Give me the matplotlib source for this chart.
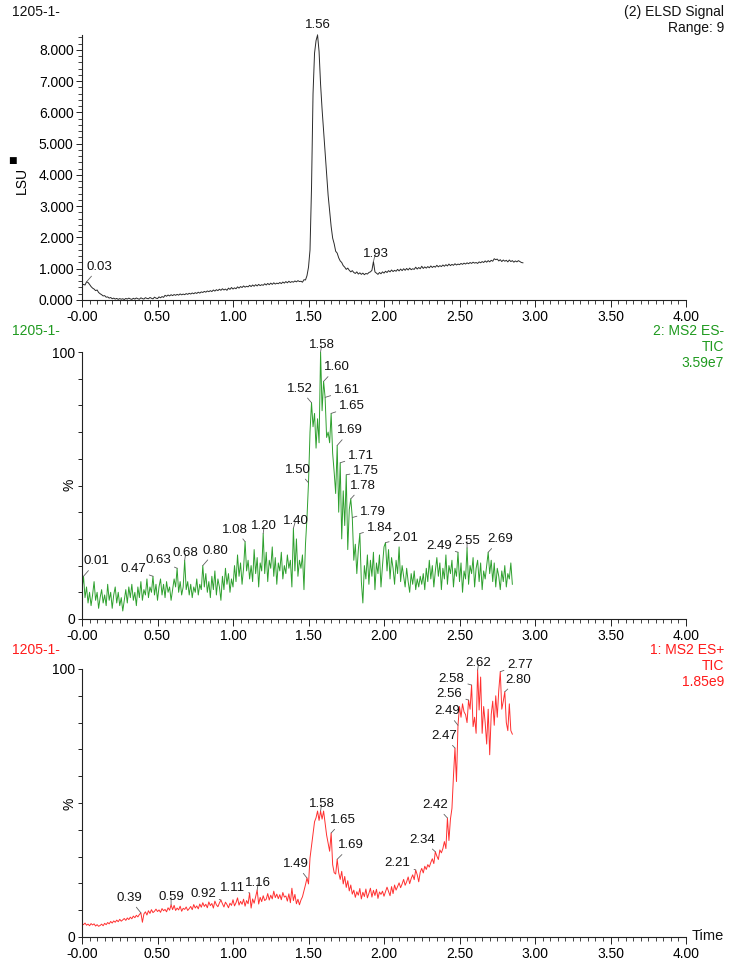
import numpy as np
import matplotlib
matplotlib.use("Agg")
import matplotlib.pyplot as plt
from matplotlib.ticker import MultipleLocator, FixedLocator, FixedFormatter

plt.rcParams['font.family'] = ['Liberation Sans', 'DejaVu Sans']

# ---------------- DATA ----------------
x_tick_values = [0.0, 0.5, 1.0, 1.5, 2.0, 2.5, 3.0, 3.5, 4.0]
x_tick_labels = ['-0.00', '0.50', '1.00', '1.50', '2.00', '2.50', '3.00', '3.50', '4.00']

elsd_yticks = [0, 1000, 2000, 3000, 4000, 5000, 6000, 7000, 8000]
elsd_ylabels = ['0.000', '1.000', '2.000', '3.000', '4.000', '5.000', '6.000', '7.000', '8.000']

# ELSD signal, time 0.00 .. 2.92 step 0.01
elsd_values = [
    470, 500, 480, 580, 560, 500, 430, 380, 350, 300,
    320, 240, 200, 170, 130, 140, 90, 100, 60, 80,
    40, 60, 30, 50, 20, 45, 25, 40, 15, 50,
    30, 60, 35, 20, 55, 30, 65, 40, 25, 70,
    45, 30, 75, 50, 40, 80, 55, 35, 90, 60,
    45, 100, 70, 110, 85, 150, 120, 160, 130, 170,
    140, 175, 150, 180, 155, 195, 165, 190, 170, 205,
    180, 215, 190, 225, 200, 235, 210, 250, 220, 260,
    240, 275, 250, 290, 265, 300, 270, 320, 285, 330,
    300, 345, 310, 360, 320, 350, 310, 380, 340, 400,
    350, 390, 360, 420, 380, 430, 400, 450, 410, 440,
    420, 470, 430, 480, 440, 490, 450, 500, 460, 490,
    470, 520, 480, 530, 490, 540, 500, 550, 510, 540,
    520, 560, 525, 575, 540, 590, 550, 600, 560, 590,
    570, 610, 580, 620, 590, 600, 570, 650, 640, 780,
    1050, 1600, 3600, 6600, 7900, 8300, 8480, 7950, 6900, 6100,
    5400, 4700, 4050, 3350, 2850, 2350, 1980, 1800, 1560, 1500,
    1350, 1250, 1200, 1100, 1050, 980, 1020, 950, 900, 940,
    880, 850, 900, 830, 870, 820, 860, 810, 850, 830,
    880, 900, 950, 1230, 900, 860, 820, 880, 840, 900,
    860, 920, 880, 940, 900, 960, 910, 950, 920, 980,
    930, 990, 940, 1000, 950, 1010, 960, 1020, 970, 1000,
    980, 1050, 990, 1040, 1000, 1080, 1010, 1060, 1020, 1070,
    1030, 1090, 1040, 1080, 1050, 1110, 1060, 1100, 1070, 1120,
    1080, 1130, 1090, 1150, 1100, 1140, 1110, 1160, 1120, 1150,
    1130, 1170, 1140, 1180, 1150, 1190, 1160, 1200, 1170, 1210,
    1180, 1200, 1170, 1220, 1190, 1230, 1200, 1250, 1210, 1260,
    1220, 1270, 1240, 1320, 1290, 1310, 1250, 1290, 1230, 1280,
    1240, 1270, 1220, 1280, 1230, 1260, 1210, 1250, 1220, 1260,
    1230, 1200, 1190,
]
elsd_time = np.round(np.arange(len(elsd_values)) * 0.01, 2)
elsd_peak_labels = [0.03, 1.56, 1.93]

# MS2 ES- TIC (%), time 0.00 .. 2.85 step 0.01
esm_values = [
    11, 16, 8, 12, 6, 10, 5, 9, 14, 7,
    10, 4, 8, 11, 6, 9, 5, 13, 7, 10,
    4, 9, 12, 6, 10, 5, 8, 3, 7, 11,
    6, 12, 8, 13, 7, 10, 5, 12, 8, 14,
    7, 11, 9, 15, 8, 12, 10, 16, 9, 13,
    7, 12, 15, 9, 13, 8, 14, 10, 12, 7,
    11, 15, 12, 19, 10, 14, 9, 12, 22, 11,
    14, 9, 13, 8, 12, 10, 15, 9, 13, 11,
    20, 12, 17, 10, 14, 8, 16, 11, 18, 9,
    15, 12, 7, 16, 11, 19, 13, 17, 10, 15,
    12, 20, 14, 24, 16, 21, 13, 19, 29, 18,
    22, 15, 20, 14, 26, 17, 23, 12, 21, 18,
    32, 17, 25, 14, 22, 19, 27, 16, 23, 13,
    21, 18, 25, 15, 20, 17, 24, 19, 22, 12,
    34, 18, 30, 16, 22, 19, 24, 11, 28, 38,
    51, 70, 81, 72, 77, 64, 75, 66, 100, 78,
    89, 83, 68, 70, 66, 77, 62, 55, 47, 65,
    40, 58.5, 30, 48, 35, 54, 26, 41, 45, 38,
    22, 28, 17, 26, 32, 14, 6, 20, 15, 24,
    13, 22, 16, 25, 11, 21, 17, 24, 12, 20,
    27, 28.6, 18, 26, 15, 23, 19, 13, 22, 17,
    27, 14, 20, 16, 12, 19, 14, 10, 17, 13,
    18, 11, 15, 12, 16, 13, 17, 11, 19, 14,
    22, 15, 20, 12, 18, 23, 16, 21, 11, 19,
    15, 24, 13, 20, 17, 22, 12, 19, 16, 25,
    14, 21, 10, 18, 15, 26.6, 13, 20, 17, 23,
    12, 19, 22, 14, 21, 11, 18, 15, 20, 25,
    17, 22, 14, 21, 12, 19, 16, 11, 18, 14,
    20, 12, 17, 15, 21, 13,
]
esm_time = np.round(np.arange(len(esm_values)) * 0.01, 2)
esm_peak_labels = [0.01, 0.47, 0.63, 0.68, 0.80, 1.08, 1.20, 1.40, 1.50, 1.52,
                   1.58, 1.60, 1.61, 1.65, 1.69, 1.71, 1.75, 1.78, 1.79, 1.84,
                   2.01, 2.49, 2.55, 2.69]

# MS2 ES+ TIC (%), time 0.00 .. 2.85 step 0.01
esp_values = [
    5.0, 4.6, 5.2, 4.4, 4.8, 4.2, 5.0, 4.5, 4.9, 4.1,
    4.6, 4.0, 4.3, 4.8, 4.2, 5.1, 4.6, 5.4, 4.9, 5.8,
    5.2, 6.0, 5.5, 6.3, 5.7, 6.6, 5.9, 6.4, 6.9, 6.2,
    7.1, 6.5, 7.4, 6.8, 7.8, 7.2, 8.1, 7.5, 8.4, 9.0,
    5.5, 8.6, 9.4, 8.2, 9.8, 8.8, 10.2, 9.1, 9.6, 10.4,
    9.5, 10.1, 9.2, 10.6, 9.8, 10.3, 9.4, 10.9, 10.0, 12.0,
    10.2, 11.8, 9.9, 10.8, 10.1, 11.5, 9.6, 10.7, 10.3, 11.2,
    9.9, 10.6, 11.4, 10.2, 12.1, 10.8, 11.6, 10.5, 12.3, 11.1,
    12.8, 11.4, 12.2, 10.9, 13.1, 11.7, 12.5, 10.8, 13.4, 12.0,
    11.3, 12.7, 13.8, 12.4, 11.2, 13.0, 12.1, 10.9, 12.6, 11.8,
    13.9, 11.6, 12.8, 14.6, 11.9, 13.3, 12.2, 14.1, 11.5, 13.6,
    12.4, 16.4, 10.8, 14.2, 12.6, 15.1, 17.5, 12.3, 14.8, 13.2,
    15.4, 13.6, 14.1, 16.2, 13.8, 15.6, 14.2, 17.1, 14.7, 16.0,
    14.3, 15.8, 13.9, 16.6, 14.9, 15.3, 13.4, 16.1, 12.8, 18.2,
    13.6, 15.9, 12.4, 14.1, 12.0, 13.8, 15.0, 17.2, 19.5, 22.0,
    19.8, 29.5, 34.0, 38.5, 43.0, 44.5, 47.0, 43.5, 47.0, 44.0,
    47.0, 42.5, 38.0, 35.0, 32.0, 38.8, 27.0, 24.0, 23.5, 29.0,
    24.0, 21.5, 24.5, 19.8, 22.6, 18.5, 21.0, 17.2, 19.4, 16.0,
    17.5, 14.8, 16.9, 15.6, 18.1, 14.2, 16.7, 15.1, 17.9, 14.6,
    16.3, 18.2, 14.9, 17.4, 15.5, 17.8, 14.4, 16.8, 15.9, 17.1,
    15.2, 16.9, 18.6, 17.0, 15.4, 18.8, 16.2, 19.4, 17.5, 18.9,
    20.2, 18.4, 19.8, 21.5, 19.3, 20.6, 22.4, 19.9, 21.8, 23.2,
    21.4, 25.0, 23.2, 20.6, 24.2, 25.6, 23.9, 26.4, 25.2, 27.0,
    26.1, 27.8, 29.2, 27.4, 31.8, 30.2, 28.9, 32.5, 31.4, 33.0,
    35.6, 33.0, 44.4, 36.0, 44.0, 48.0, 60.0, 70.5, 58.0, 79.0,
    86.0, 82.0, 87.0, 84.0, 83.0, 80.0, 88.4, 85.0, 94.0, 78.5,
    82.0, 76.0, 99.6, 84.7, 97.0, 76.0, 86.0, 80.0, 72.0, 85.0,
    68.0, 83.0, 88.0, 79.0, 90.0, 82.0, 92.0, 99.0, 85.0, 88.0,
    91.5, 80.0, 77.0, 87.0, 77.0, 75.7,
]
esp_time = np.round(np.arange(len(esp_values)) * 0.01, 2)
esp_peak_labels = [0.39, 0.59, 0.92, 1.11, 1.16, 1.49, 1.58, 1.65, 1.69, 2.21,
                   2.34, 2.42, 2.47, 2.49, 2.56, 2.58, 2.62, 2.77, 2.80]

# ---------------- LAYOUT (pixel offsets of label text from its peak) ----------------
elsd_offsets = [(13, 15), (0, 10), (2, 8)]
esm_offsets = [(13, 15), (-20, 7), (-19, 8), (1, 7), (13, 15), (-10, 12), (1, 8), (2, 7),
               (-11, 13), (-12, 14), (1, 7), (13, 14), (22, 7), (21, 7), (13, 15), (21, 7),
               (20, 4), (12, 13), (21, 6), (20, 6), (20, 5), (-19, 6), (0, 7), (12, 13)]
esp_offsets = [(-12, 15), (0, 8), (-18, 6), (-17, 5), (1, 7), (-11, 14), (1, 7), (12, 13),
               (14, 14), (-18, 7), (-13, 12), (-12, 13), (-11, 12), (-11, 14), (-19, 6),
               (-20, 6), (1, 7), (20, 7), (13, 12)]

W, H = 731, 961
fig = plt.figure(figsize=(W / 100, H / 100), dpi=100)

def fx(px):
    return px / W

def fy(py):
    return 1 - py / H

left = fx(82)
width = (686 - 82) / W
ax_top = fig.add_axes([left, fy(300), width, (300 - 35) / H])
ax_mid = fig.add_axes([left, fy(619), width, (619 - 352) / H])
ax_bot = fig.add_axes([left, fy(937), width, (937 - 669) / H])

GREEN = '#1f9a1f'
GREEN_LINE = '#2ea02e'
RED = '#ff1a1a'
RED_LINE = '#ff3030'
LEADER = '#606060'
FS_TICK = 10
FS_PEAK = 9.5

def style_axis(ax):
    for s in ['top', 'right']:
        ax.spines[s].set_visible(False)
    for s in ['left', 'bottom']:
        ax.spines[s].set_linewidth(0.8)
        ax.spines[s].set_color('#222222')
    ax.set_xlim(0, 4)
    ax.xaxis.set_major_locator(FixedLocator(x_tick_values))
    ax.xaxis.set_major_formatter(FixedFormatter(x_tick_labels))
    ax.xaxis.set_minor_locator(MultipleLocator(0.05))
    ax.tick_params(axis='both', which='major', direction='out', length=5, width=0.7,
                   labelsize=FS_TICK, pad=2, color='#222222')
    ax.tick_params(axis='both', which='minor', direction='out', length=3, width=0.6,
                   color='#222222')
    ax.patch.set_alpha(0)

def label_peaks(ax, times, values, label_times, offsets):
    for lt, (dx, dy) in zip(label_times, offsets):
        i = int(np.argmin(np.abs(times - lt)))
        ax.annotate(f'{lt:.2f}', xy=(times[i], values[i]), xytext=(dx, dy),
                    textcoords='offset pixels', ha='center', va='center',
                    fontsize=FS_PEAK, color='#111111', annotation_clip=False,
                    arrowprops=dict(arrowstyle='-', color=LEADER, lw=0.6,
                                    shrinkA=0.5, shrinkB=0))

# ----- ELSD -----
style_axis(ax_top)
ax_top.plot(elsd_time, elsd_values, color='#2a2a2a', lw=0.7)
ax_top.set_ylim(0, 8480)
ax_top.yaxis.set_major_locator(FixedLocator(elsd_yticks))
ax_top.yaxis.set_major_formatter(FixedFormatter(elsd_ylabels))
ax_top.yaxis.set_minor_locator(MultipleLocator(200))
ax_top.tick_params(axis='y', which='major', length=4)
label_peaks(ax_top, elsd_time, np.array(elsd_values), elsd_peak_labels, elsd_offsets)

# ----- ES- / ES+ -----
pct_ticks = list(range(0, 101, 10))
pct_labels = ['0'] + [''] * 9 + ['100']
for ax in (ax_mid, ax_bot):
    style_axis(ax)
    ax.set_ylim(0, 100)
    ax.yaxis.set_major_locator(FixedLocator(pct_ticks))
    ax.yaxis.set_major_formatter(FixedFormatter(pct_labels))
    ax.tick_params(axis='y', which='major', length=3)

ax_mid.plot(esm_time, esm_values, color=GREEN_LINE, lw=0.7)
label_peaks(ax_mid, esm_time, np.array(esm_values), esm_peak_labels, esm_offsets)

ax_bot.plot(esp_time, esp_values, color=RED_LINE, lw=0.7)
label_peaks(ax_bot, esp_time, np.array(esp_values), esp_peak_labels, esp_offsets)

# ----- header texts -----
def ftext(px, py, s, ha='left', color='#111111', size=10, **kw):
    fig.text(fx(px), fy(py), s, ha=ha, va='center', color=color, fontsize=size, **kw)

ftext(12, 12, '1205-1-')
ftext(724, 12, '(2) ELSD Signal', ha='right')
ftext(724, 28, 'Range: 9', ha='right')

ftext(12, 331, '1205-1-', color=GREEN)
ftext(724, 331, '2: MS2 ES-', ha='right', color=GREEN)
ftext(724, 347, 'TIC', ha='right', color=GREEN)
ftext(724, 363, '3.59e7', ha='right', color=GREEN)

ftext(12, 650, '1205-1-', color=RED)
ftext(724, 650, '1: MS2 ES+', ha='right', color=RED)
ftext(724, 666, 'TIC', ha='right', color=RED)
ftext(724, 682, '1.85e9', ha='right', color=RED)

ftext(692, 936, 'Time', size=10.5)

# y-axis unit labels
fig.text(fx(22), fy(180), 'LSU', rotation=90, ha='center', va='center', fontsize=10)
fig.text(fx(12), fy(161), '\u25a0', ha='center', va='center', fontsize=6.5,
         family=['DejaVu Sans'])
fig.text(fx(70), fy(485), '%', rotation=90, ha='center', va='center', fontsize=10)
fig.text(fx(70), fy(804), '%', rotation=90, ha='center', va='center', fontsize=10)

fig.savefig('out.png', dpi=100)
